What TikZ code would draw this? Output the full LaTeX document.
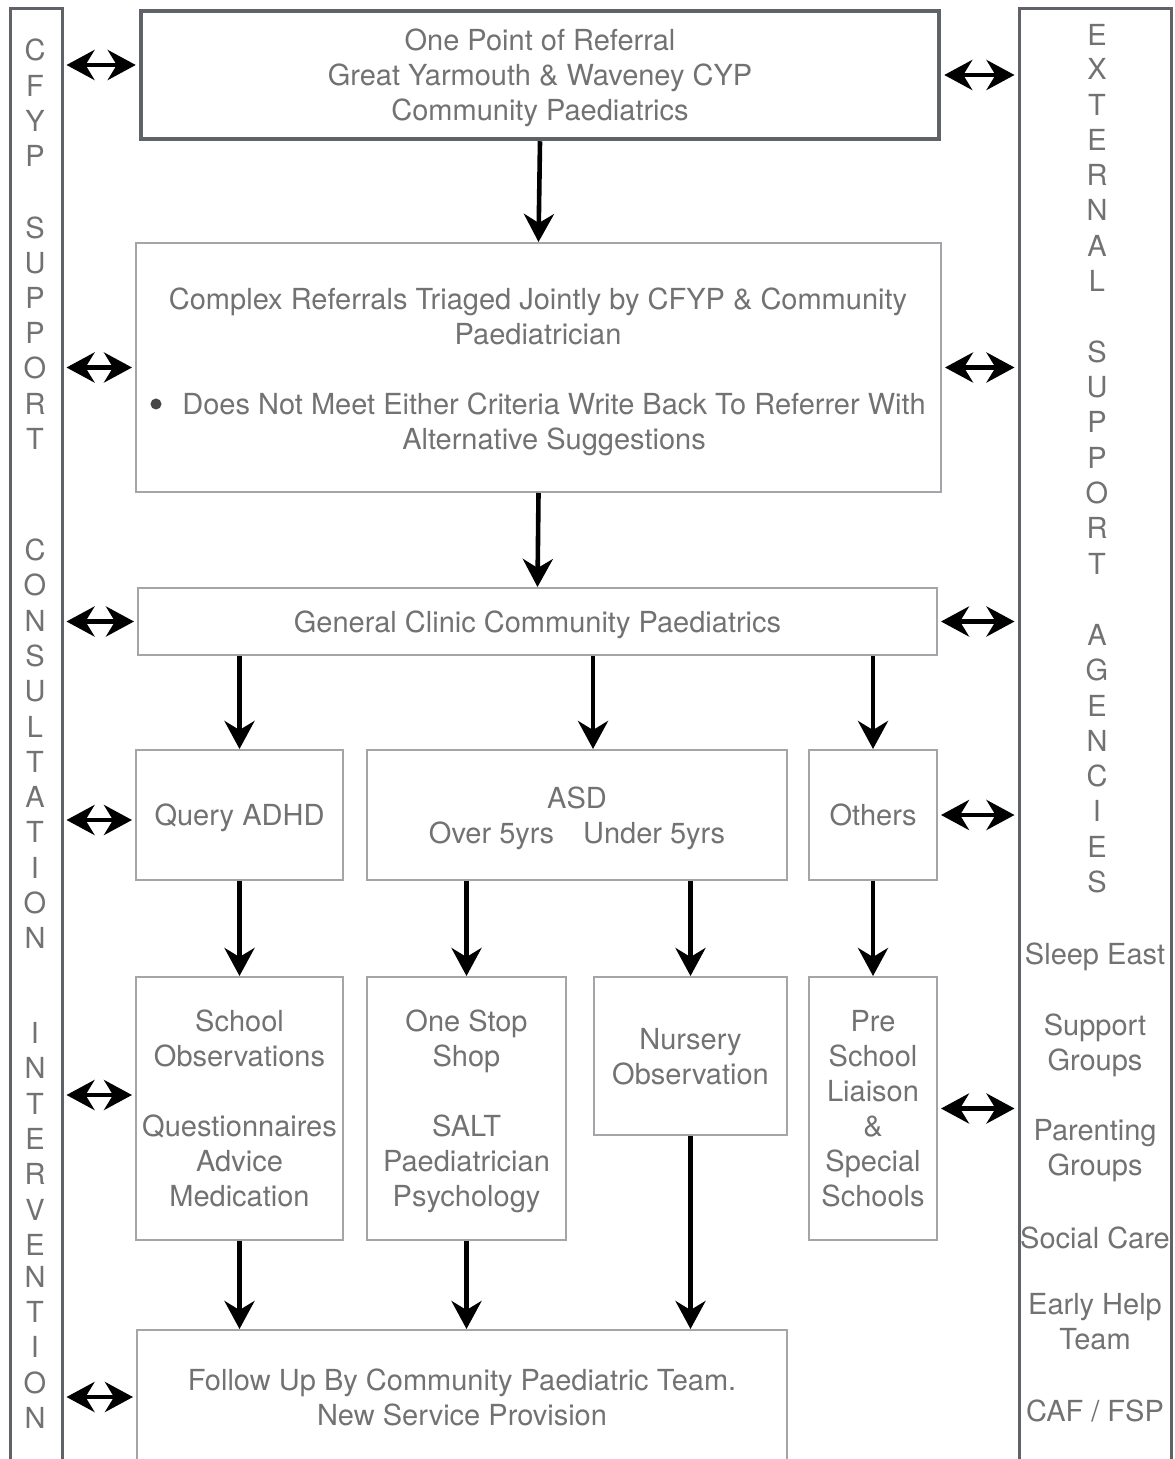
\documentclass[tikz,border=0pt]{standalone}
\usepackage{fontspec}
\setmainfont{TeX Gyre Heros}
\usetikzlibrary{arrows.meta,positioning}
\definecolor{txtgray}{HTML}{727272}
\definecolor{boxgray}{HTML}{A3A5A8}
\definecolor{colgray}{HTML}{5F6368}
\tikzset{
  every node/.style={font=\fontsize{14.5}{17.5}\selectfont, text=txtgray},
  box/.style={draw=boxgray, line width=1pt, inner sep=0pt, align=center, text depth=0pt},
  bigbox/.style={draw=colgray, line width=2pt, inner sep=0pt, align=center, text depth=0pt},
  sidecol/.style={draw=colgray, line width=1.5pt, inner sep=0pt},
  letter/.style={inner sep=0pt},
  flow/.style={line width=2.3pt, -{Stealth[length=14pt,width=15pt,inset=4.5pt]}},
  link/.style={line width=2.3pt, {Stealth[length=14pt,width=15pt,inset=4.5pt]}-{Stealth[length=14pt,width=15pt,inset=4.5pt]}, shorten <=1.5pt, shorten >=1.5pt}
}
\begin{document}
\begin{tikzpicture}[x=0.5pt,y=-0.5pt]
\useasboundingbox (0,0) rectangle (1174,1459);
\clip (0,0) rectangle (1174,1459);

\node[sidecol, minimum width=26pt, minimum height=733pt] (cfyp) at (36,742) {};
\node[sidecol, minimum width=76pt, minimum height=733pt] (external) at (1095,742) {};

\foreach \ch/\yy in {C/50,F/86,Y/121,P/156,S/228,U/263,P/298,P/333,O/368,R/404,T/439,
  C/550,O/585,N/621,S/656,U/691,L/727,T/762,A/797,T/832,I/868,O/903,N/938,
  I/1033,N/1068,T/1104,E/1139,R/1174,V/1210,E/1245,N/1277,T/1312,I/1347,O/1383,N/1418}
  \node[letter] (cl\yy) at (35,\yy) {\ch};
\foreach \ch/\yy in {E/35,X/69,T/105,E/140,R/175,N/210,A/246,L/281,
  S/352,U/387,P/422,P/458,O/493,R/528,T/564,
  A/635,G/670,E/706,N/741,C/776,I/811,E/847,S/882}
  \node[letter] (el\yy) at (1097,\yy) {\ch};

\node[align=center] (sleep) at (1095,957) {Sleep East};
\node[align=center] (support) at (1095,1045) {Support\\Groups};
\node[align=center] (parenting) at (1095,1151) {Parenting\\Groups};
\node[align=center] (social) at (1095,1238) {Social Care};
\node[align=center] (earlyhelp) at (1095,1322) {Early Help\\Team};
\node[align=center] (caf) at (1095,1411) {CAF / FSP};

\node[bigbox, minimum width=399.25pt, minimum height=64.25pt] (top) at (540,75) {One Point of Referral\\Great Yarmouth \& Waveney CYP\\Community Paediatrics};
\node[box, minimum width=402.5pt, minimum height=124.5pt] (complex) at (538.5,367.5) {};
\node[align=center] (cx1) at (538,316) {Complex Referrals Triaged Jointly by CFYP \& Community\\Paediatrician};
\node[circle, fill=black!72, inner sep=0pt, minimum size=5.5pt] (bul) at (156,404) {};
\node[align=center] (cx2) at (554,424) {Does Not Meet Either Criteria Write Back To Referrer With\\Alternative Suggestions};
\node[box, minimum width=399.5pt, minimum height=33.5pt] (general) at (537.5,621.5) {General Clinic Community Paediatrics};

\node[box, minimum width=103.5pt, minimum height=65pt] (adhd) at (239.5,815) {Query ADHD};
\node[box, minimum width=210pt, minimum height=65pt] (asd) at (577,815) {ASD\\Over 5yrs\quad Under 5yrs};
\node[box, minimum width=64pt, minimum height=65pt] (others) at (873,815) {Others};

\node[box, minimum width=103.5pt, minimum height=131.5pt] (school) at (239.5,1108.5) {School\\Observations\\[17.5pt]Questionnaires\\Advice\\Medication};
\node[box, minimum width=99.5pt, minimum height=131.5pt] (onestop) at (466.5,1108.5) {One Stop\\Shop\\[17.5pt]SALT\\Paediatrician\\Psychology};
\node[box, minimum width=96.5pt, minimum height=79pt] (nursery) at (690.5,1056) {Nursery\\Observation};
\node[box, minimum width=64pt, minimum height=131.5pt] (preschool) at (873,1108.5) {Pre\\School\\Liaison\\\&\\Special\\Schools};

\node[box, minimum width=325pt, minimum height=67pt] (followup) at (462,1397) {Follow Up By Community Paediatric Team.\\New Service Provision};

\draw[flow] (top.south) -- (complex.north);
\draw[flow] (complex.south) -- (general.north);
\coordinate (asdin) at ([xshift=8pt]asd.north);
\draw[flow] (general.south -| adhd.north) -- (adhd.north);
\draw[flow] (general.south -| asdin) -- (asdin);
\draw[flow] (general.south -| others.north) -- (others.north);
\draw[flow] (adhd.south) -- (school.north);
\draw[flow] (asd.south -| onestop.north) -- (onestop.north);
\draw[flow] (asd.south -| nursery.north) -- (nursery.north);
\draw[flow] (others.south) -- (preschool.north);
\draw[flow] (school.south) -- (school.south |- followup.north);
\draw[flow] (onestop.south) -- (onestop.south |- followup.north);
\draw[flow] (nursery.south) -- (nursery.south |- followup.north);

\coordinate (lt) at ([yshift=5pt]top.west);
\coordinate (la) at ([yshift=-2.5pt]adhd.west);
\coordinate (ls) at ([yshift=6.75pt]school.west);
\draw[link] (lt -| cfyp.east) -- (lt);
\draw[link] (complex.west -| cfyp.east) -- (complex.west);
\draw[link] (general.west -| cfyp.east) -- (general.west);
\draw[link] (la -| cfyp.east) -- (la);
\draw[link] (ls -| cfyp.east) -- (ls);
\draw[link] (followup.west -| cfyp.east) -- (followup.west);

\draw[link] (top.east) -- (top.east -| external.west);
\draw[link] (complex.east) -- (complex.east -| external.west);
\draw[link] (general.east) -- (general.east -| external.west);
\draw[link] (others.east) -- (others.east -| external.west);
\draw[link] (preschool.east) -- (preschool.east -| external.west);
\end{tikzpicture}
\end{document}
